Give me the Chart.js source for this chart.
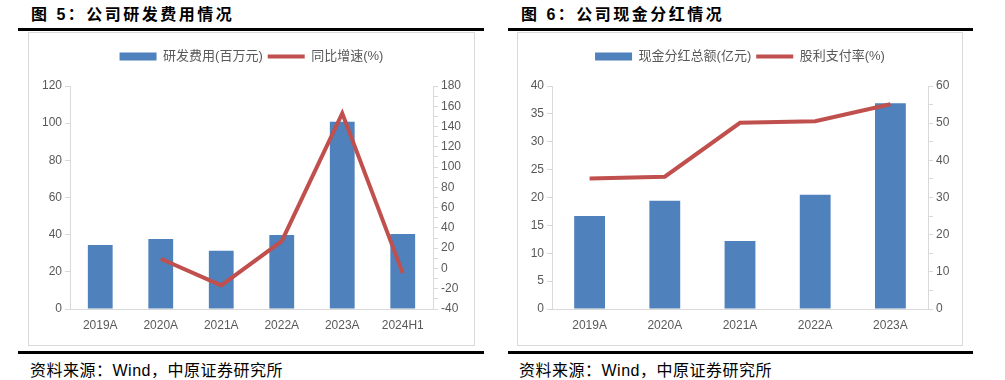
<!DOCTYPE html>
<html>
<head>
<meta charset="utf-8">
<script src="https://cdn.jsdelivr.net/npm/chart.js@4.4.0/dist/chart.umd.min.js"></script>
<style>
  body { margin: 0; width: 1005px; height: 380px; background: #fff; position: relative; overflow: hidden;
         font-family: "Liberation Sans", "Noto Sans CJK SC", sans-serif; }
  .title { position: absolute; top: 1px; font-size: 16px; font-weight: bold; letter-spacing: 2.5px; color: #000; }
  .rule { position: absolute; height: 3px; background: #000; }
  .box { position: absolute; top: 32px; height: 312px; border: 1px solid #d9d9d9; }
  .box canvas { position: absolute; left: 0; top: 0; }
  .src { position: absolute; top: 357px; font-size: 16px; letter-spacing: 0.5px; color: #000; }
</style>
</head>
<body>
<div class="title" style="left:31px">图 5：公司研发费用情况</div>
<div class="rule" style="left:18px; width:466px; top:28px"></div>
<div class="box" style="left:28px; width:445px"><canvas id="rdChart" width="445" height="312"></canvas></div>
<div class="rule" style="left:18px; width:466px; top:351px"></div>
<div class="src" style="left:30px">资料来源：Wind，中原证券研究所</div>

<div class="title" style="left:521px">图 6：公司现金分红情况</div>
<div class="rule" style="left:508px; width:465px; top:28px"></div>
<div class="box" style="left:517px; width:444px"><canvas id="divChart" width="444" height="312"></canvas></div>
<div class="rule" style="left:508px; width:465px; top:351px"></div>
<div class="src" style="left:519px">资料来源：Wind，中原证券研究所</div>

<script>
// Figure 5 data
const rdYears = ['2019A', '2020A', '2021A', '2022A', '2023A', '2024H1'];
const rdExpense = [34.4, 37.7, 31.4, 39.8, 100.7, 40.3];   // 百万元
const rdGrowth = [null, 9.6, -16.7, 27, 153, -4.6];         // %

// Figure 6 data
const divYears = ['2019A', '2020A', '2021A', '2022A', '2023A'];
const divTotal = [16.7, 19.4, 12.2, 20.5, 36.9];            // 亿元
const payoutRatio = [35.1, 35.6, 50.1, 50.5, 55.1];         // %

const BLUE = '#4f81bd';
const RED = '#c0504d';
const AXIS = '#d9d9d9';
const TEXT = '#595959';
const FONT = '"Liberation Sans", "Noto Sans CJK SC", sans-serif';

// extra gap under the legend
const legendGap = {
    id: 'legendGap',
    beforeInit(chart) {
        const fit = chart.legend.fit;
        chart.legend.fit = function() {
            fit.call(this);
            this.height += 13;
        };
    }
};

function yAxis(pos, min, max, step, labelEvery, width) {
    return {
        position: pos,
        min: min,
        max: max,
        afterFit: s => { s.width = width; },
        border: { display: true, color: AXIS },
        grid: { drawOnChartArea: false, color: AXIS, tickLength: 5 },
        ticks: {
            stepSize: step,
            autoSkip: false,
            padding: 3,
            color: TEXT,
            font: { family: FONT, size: 12 },
            callback: v => (v % labelEvery === 0 ? v : '')
        }
    };
}

function makeChart(id, labels, bars, barLabel, line, lineLabel, left, right, xHeight) {
    const ctx = document.getElementById(id).getContext('2d');
    return new Chart(ctx, {
        data: {
            labels: labels,
            datasets: [{
                type: 'bar',
                label: barLabel,
                data: bars,
                backgroundColor: BLUE,
                pointStyle: 'rect',
                categoryPercentage: 1,
                barPercentage: 0.41,
                yAxisID: 'y',
                order: 1
            }, {
                type: 'line',
                label: lineLabel,
                data: line,
                borderColor: RED,
                backgroundColor: RED,
                borderWidth: 4,
                pointRadius: 0,
                pointStyle: 'line',
                tension: 0,
                yAxisID: 'y1',
                order: 0
            }]
        },
        plugins: [legendGap],
        options: {
            responsive: false,
            animation: false,
            layout: { padding: { top: 12, left: 0, right: 0, bottom: 0 } },
            scales: {
                x: {
                    afterFit: s => { s.height = xHeight; },
                    border: { display: true, color: AXIS },
                    grid: { drawOnChartArea: false, drawTicks: false, color: AXIS },
                    ticks: { padding: 9, color: TEXT, font: { family: FONT, size: 12 } }
                },
                y: yAxis('left', left[0], left[1], left[2], left[3], left[4]),
                y1: yAxis('right', right[0], right[1], right[2], right[3], right[4])
            },
            plugins: {
                legend: {
                    position: 'top',
                    labels: {
                        usePointStyle: true,
                        pointStyleWidth: 37,
                        boxHeight: 8,
                        padding: 5,
                        color: TEXT,
                        font: { family: FONT, size: 13 },
                        sort: (a, b) => a.datasetIndex - b.datasetIndex
                    }
                },
                tooltip: { enabled: false }
            }
        }
    });
}

makeChart('rdChart', rdYears, rdExpense, '研发费用(百万元)', rdGrowth, '同比增速(%)',
    [0, 120, 20, 20, 41], [-40, 180, 10, 20, 41], 36);
makeChart('divChart', divYears, divTotal, '现金分红总额(亿元)', payoutRatio, '股利支付率(%)',
    [0, 40, 5, 5, 34], [0, 60, 5, 10, 34], 36);
</script>
</body>
</html>
